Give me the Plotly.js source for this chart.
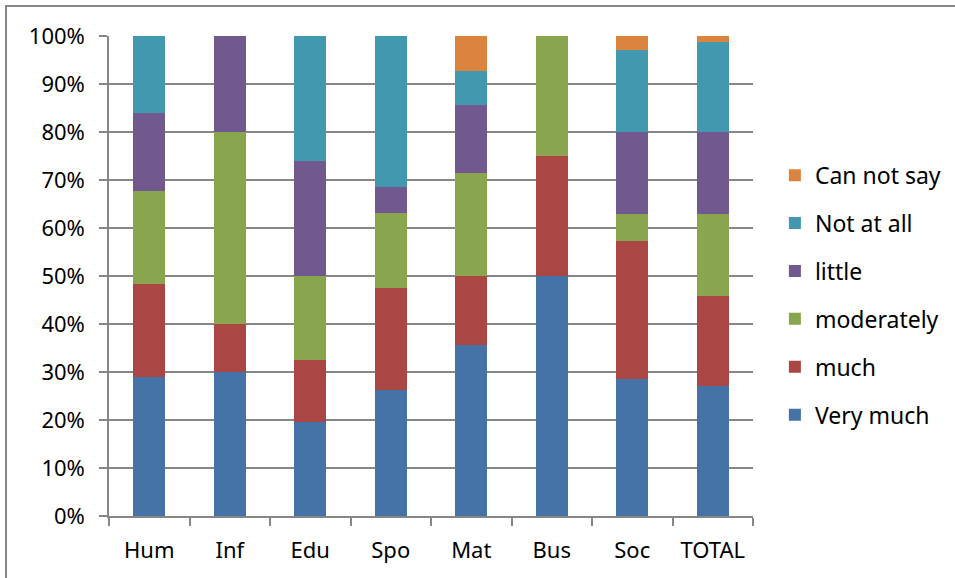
<!DOCTYPE html>
<html>
<head>
<meta charset="utf-8">
<script src="https://cdn.plot.ly/plotly-3.0.1.min.js"></script>
<style>
  html, body { margin: 0; padding: 0; background: #fff; }
  #wrap { position: relative; width: 955px; height: 578px; overflow: hidden; }
  #chart { width: 955px; height: 578px; }
  #frame {
    position: absolute; left: 5px; top: 5px; width: 1000px; height: 1000px;
    border-left: 2px solid #878787; border-top: 2px solid #878787;
    pointer-events: none;
  }
</style>
</head>
<body>
<div id="wrap">
  <div id="chart"></div>
  <div id="frame"></div>
</div>
<script>
// Faculties (x categories)
const categories = ["Hum", "Inf", "Edu", "Spo", "Mat", "Bus", "Soc", "TOTAL"];

// Share of answers per faculty, in percent (stacked bottom to top)
const veryMuch   = [29.0, 30.0, 19.6, 26.3, 35.7, 50.0, 28.6, 27.0];
const much       = [19.4, 10.0, 13.0, 21.1, 14.3, 25.0, 28.6, 18.9];
const moderately = [19.4, 40.0, 17.4, 15.8, 21.4, 25.0,  5.7, 17.0];
const little     = [16.1, 20.0, 23.9,  5.3, 14.3,  0.0, 17.1, 17.0];
const notAtAll   = [16.1,  0.0, 26.1, 31.6,  7.1,  0.0, 17.1, 18.9];
const cannotSay  = [ 0.0,  0.0,  0.0,  0.0,  7.1,  0.0,  2.9,  1.3];

const seriesNames = ["Very much", "much", "moderately", "little", "Not at all", "Can not say"];
const seriesValues = [veryMuch, much, moderately, little, notAtAll, cannotSay];
const seriesColors = ["#4572A7", "#AA4643", "#89A54E", "#71588F", "#4198AF", "#DB843D"];

const yTickValues = [0, 10, 20, 30, 40, 50, 60, 70, 80, 90, 100];
const yTickLabels = ["0%", "10%", "20%", "30%", "40%", "50%", "60%", "70%", "80%", "90%", "100%"];

const traces = seriesNames.map((name, i) => ({
  type: "bar",
  name: name,
  x: categories,
  y: seriesValues[i],
  legendgroup: "g" + i,
  legendrank: 1000 - i,
  marker: { color: seriesColors[i], line: { width: 0 } },
  hoverinfo: "x+y+name"
}));

const tickFont = { family: "Noto Sans, Open Sans, sans-serif", size: 22, color: "#000" };
const legendFont = { family: "Noto Sans, Open Sans, sans-serif", size: 23, color: "#000" };

const layout = {
  width: 955,
  height: 578,
  margin: { l: 109, r: 202, t: 36, b: 62, autoexpand: false },
  paper_bgcolor: "#fff",
  plot_bgcolor: "#fff",
  barmode: "stack",
  bargap: 0.6,
  font: tickFont,
  showlegend: true,
  legend: {
    traceorder: "grouped",
    tracegroupgap: 15,
    x: 1.034, xanchor: "left",
    y: 0.46, yanchor: "middle",
    font: legendFont,
    itemclick: false
  },
  xaxis: {
    type: "category",
    range: [-0.5, 7.5],
    showline: true, linecolor: "#878787", linewidth: 1.5,
    ticks: "outside", tickson: "boundaries", ticklen: 8, tickwidth: 1.5, tickcolor: "#878787",
    ticklabelstandoff: 14,
    showgrid: false,
    tickfont: tickFont,
    fixedrange: true
  },
  yaxis: {
    range: [0, 100],
    tickmode: "array",
    tickvals: yTickValues,
    ticktext: yTickLabels,
    showline: true, linecolor: "#878787", linewidth: 1.5,
    ticks: "outside", ticklen: 8, tickwidth: 1.5, tickcolor: "#878787",
    ticklabelstandoff: 10,
    showgrid: true, gridcolor: "#878787", gridwidth: 1.5,
    zeroline: false,
    tickfont: tickFont,
    fixedrange: true
  }
};

Plotly.newPlot("chart", traces, layout, { displayModeBar: false });
</script>
</body>
</html>
